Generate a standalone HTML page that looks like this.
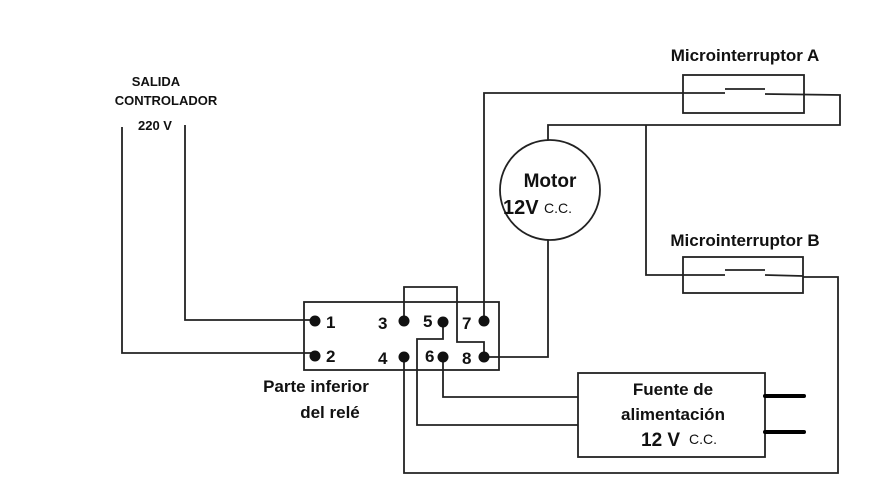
<!DOCTYPE html>
<html><head><meta charset="utf-8"><style>
html,body{margin:0;padding:0;background:#fff;}
svg{display:block;}
text{font-family:"Liberation Sans",Arial,sans-serif;font-weight:bold;fill:#111;}
</style></head><body>
<svg width="876" height="482" viewBox="0 0 876 482" xmlns="http://www.w3.org/2000/svg">
<g fill="none" stroke="#222" stroke-width="1.8">
<polyline points="122,127 122,353 315,353"/>
<polyline points="185,125 185,320 315,320"/>
<rect x="304" y="302" width="195" height="68"/>
<polyline points="404,321 404,287 457,287 457,342 484,342 484,357"/>
<polyline points="443,322 443,339 417,339 417,425 578,425"/>
<polyline points="443,357 443,397 578,397"/>
<polyline points="404,357 404,473 838,473 838,277 803,277"/>
<polyline points="484,321 484,93 683,93"/>
<rect x="683" y="75" width="121" height="38"/>
<polyline points="683,93 725,93"/>
<polyline points="725,89 765,89"/>
<polyline points="765,94 840,95 840,125 548,125 548,140"/>
<circle cx="550" cy="190" r="50"/>
<polyline points="548,240 548,357 484,357"/>
<polyline points="646,125 646,275 725,275"/>
<rect x="683" y="257" width="120" height="36"/>
<polyline points="725,270 765,270"/>
<polyline points="765,275 803,276"/>
<rect x="578" y="373" width="187" height="84"/>
</g>
<g stroke="#000" stroke-width="4" stroke-linecap="round">
<line x1="765" y1="396" x2="804" y2="396"/>
<line x1="765" y1="432" x2="804" y2="432"/>
</g>
<g fill="#111">
<circle cx="315" cy="321" r="5.5"/><circle cx="315" cy="356" r="5.5"/>
<circle cx="404" cy="321" r="5.5"/><circle cx="404" cy="357" r="5.5"/>
<circle cx="443" cy="322" r="5.5"/><circle cx="443" cy="357" r="5.5"/>
<circle cx="484" cy="321" r="5.5"/><circle cx="484" cy="357" r="5.5"/>
</g>
<g font-size="17">
<text x="326" y="328">1</text><text x="326" y="362">2</text>
<text x="378" y="329">3</text><text x="378" y="364">4</text>
<text x="423" y="327">5</text><text x="425" y="362">6</text>
<text x="462" y="329">7</text><text x="462" y="364">8</text>
</g>
<g font-size="13" text-anchor="middle">
<text x="156" y="86">SALIDA</text>
<text x="166" y="105">CONTROLADOR</text>
<text x="155" y="130">220 V</text>
</g>
<g font-size="17" text-anchor="middle">
<text x="316" y="392">Parte inferior</text>
<text x="330" y="418">del relé</text>
<text x="745" y="61">Microinterruptor A</text>
<text x="745" y="246">Microinterruptor B</text>
<text x="673" y="395">Fuente de</text>
<text x="673" y="420">alimentación</text>
</g>
<text x="550" y="187" font-size="19" text-anchor="middle">Motor</text>
<text x="503" y="214" font-size="20">12V</text>
<text x="544" y="213" font-size="14" style="font-weight:normal">C.C.</text>
<text x="641" y="446" font-size="19">12 V</text>
<text x="689" y="444" font-size="14" style="font-weight:normal">C.C.</text>
</svg>
</body></html>
